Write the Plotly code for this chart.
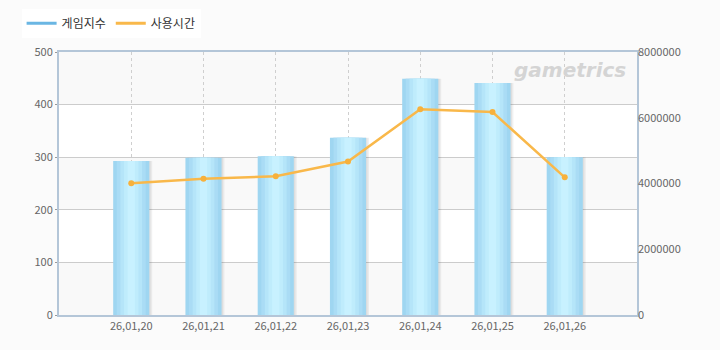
import plotly.graph_objects as go

categories = ["26,01,20", "26,01,21", "26,01,22", "26,01,23", "26,01,24", "26,01,25", "26,01,26"]
game_index = [293, 299, 302, 337, 449, 441, 300]
usage_time = [4010000, 4146000, 4218000, 4670000, 6257000, 6175000, 4188000]

left_ticks = [0, 100, 200, 300, 400, 500]
right_ticks = [0, 2000000, 4000000, 6000000, 8000000]

fig = go.Figure()

# soft shadow to the right of bars
fig.add_trace(go.Bar(x=categories, y=game_index, width=0.5, offset=-0.21,
                     marker=dict(color="rgba(0,0,0,0.06)", line=dict(width=0)),
                     showlegend=False, hoverinfo="skip"))
fig.add_trace(go.Bar(x=categories, y=game_index, width=0.5, offset=-0.23,
                     marker=dict(color="rgba(0,0,0,0.05)", line=dict(width=0)),
                     showlegend=False, hoverinfo="skip"))
# layered bars to imitate the horizontal gradient
layers = [(0.5, "#9fd6f1"), (0.40, "#aadcf5"), (0.30, "#b5e5f9"), (0.20, "#bfecfc"), (0.10, "#c8f1ff")]
for i, (w, c) in enumerate(layers):
    fig.add_trace(go.Bar(x=categories, y=game_index, width=w,
                         marker=dict(color=c, line=dict(width=0)),
                         name="게임지수", showlegend=False, hoverinfo="skip"))
fig.add_trace(go.Scatter(x=categories, y=usage_time, yaxis="y2", mode="lines+markers",
                         name="사용시간", showlegend=False,
                         line=dict(color="#f9b84a", width=2.5),
                         marker=dict(color="#f7b13c", size=6)))
# legend entries (line style)
fig.add_trace(go.Scatter(x=[None], y=[None], mode="lines", name="게임지수",
                         line=dict(color="#6ab6e3", width=3)))
fig.add_trace(go.Scatter(x=[None], y=[None], mode="lines", name="사용시간",
                         line=dict(color="#f9b84a", width=3)))

# alternating background bands
for lo, hi in [(0, 100), (200, 300), (400, 500)]:
    fig.add_shape(type="rect", xref="paper", x0=0, x1=1, yref="y", y0=lo, y1=hi,
                  fillcolor="#f9f9f9", line=dict(width=0), layer="below")

fig.add_annotation(text="<b><i>gametrics</i></b>", xref="paper", yref="paper",
                   x=0.985, y=0.985, xanchor="right", yanchor="top", showarrow=False,
                   font=dict(size=20, color="#d4d4d4", family="DejaVu Sans"))

fig.update_layout(
    width=720, height=350,
    margin=dict(l=59, r=83, t=52, b=35, autoexpand=False),
    paper_bgcolor="#fbfbfb",
    plot_bgcolor="#ffffff",
    barmode="overlay",
    font=dict(family="Noto Sans CJK KR, DejaVu Sans", size=11, color="#666666"),
    legend=dict(orientation="h", xref="container", yref="container",
                x=0.03, y=0.975, xanchor="left", yanchor="top",
                bgcolor="#ffffff", font=dict(size=12, color="#333333"),
                itemwidth=30),
    xaxis=dict(type="category", range=[-1, 7], showgrid=True, gridcolor="#cfcfcf",
               griddash="3px,3px", gridwidth=1, showline=True, linecolor="#b4c6d8",
               linewidth=2, mirror=True, ticks="", tickfont=dict(size=11, color="#666666")),
    yaxis=dict(range=[0, 500], tickvals=left_ticks, showgrid=True, gridcolor="#cccccc",
               showline=True, linecolor="#b4c6d8", linewidth=2, mirror=True,
               ticks="outside", ticklen=2, tickcolor="#999999",
               tickfont=dict(size=11, color="#666666"), zeroline=False),
    yaxis2=dict(range=[0, 8000000], tickvals=right_ticks, tickformat="d", overlaying="y",
                side="right", showgrid=False, zeroline=False,
                tickfont=dict(size=11, color="#666666")),
    hovermode=False,
)

fig.write_html("out.html")
